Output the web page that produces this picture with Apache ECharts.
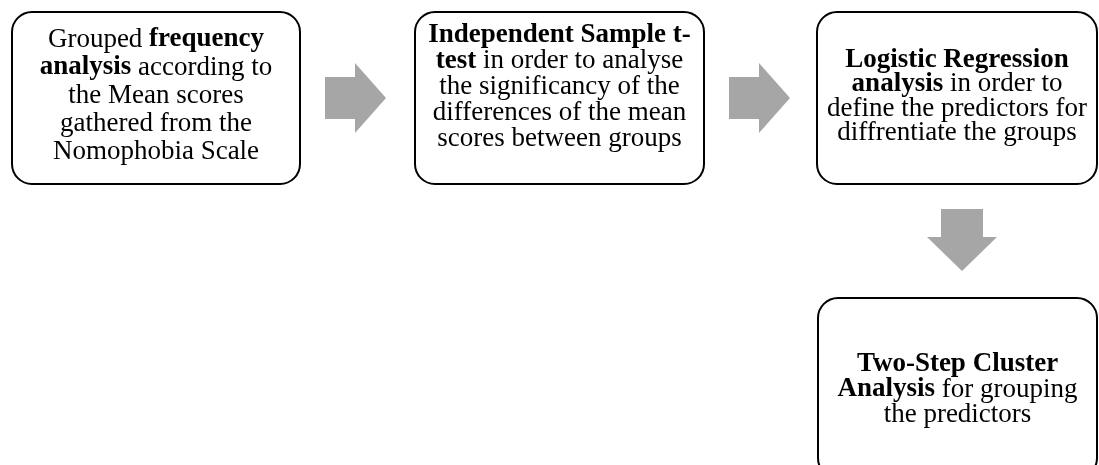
<!DOCTYPE html>
<html>
<head>
<meta charset="utf-8">
<script src="https://cdn.jsdelivr.net/npm/echarts@6/dist/echarts.min.js"></script>
<style>
  html, body { margin: 0; padding: 0; background: #fff; }
  #main { width: 1099px; height: 465px; }
</style>
</head>
<body>
<div id="main"></div>
<script>
// step texts, {b|...} = bold part
var step1 = ['Grouped {b|frequency}', '{b|analysis} according to', 'the Mean scores', 'gathered from the', 'Nomophobia Scale'];
var step2 = ['{b|Independent Sample t-}', '{b|test} in order to analyse', 'the significancy of the', 'differences of the mean', 'scores between groups'];
var step3 = ['{b|Logistic Regression}', '{b|analysis} in order to', 'define the predictors for', 'diffrentiate the groups'];
var step4 = ['{b|Two-Step Cluster}', '{b|Analysis} for grouping', 'the predictors'];
var steps = [step1, step2, step3, step4];

// flow: which step leads to which
var links = [[0, 1], [1, 2], [2, 3]];

// box layout (pixels), ty = text middle, lh = line height
var boxes = [
    { x: 12, y: 12, w: 288, h: 172, ty: 95.5, lh: 28 },
    { x: 415, y: 12, w: 289, h: 172, ty: 87, lh: 26 },
    { x: 817, y: 12, w: 280, h: 172, ty: 96.5, lh: 24.5 },
    { x: 818, y: 298, w: 279, h: 180, ty: 389.5, lh: 25.5 }
];

var myChart = echarts.init(document.getElementById('main'));

var elements = [];
var fontFamily = '"Liberation Serif", "Times New Roman", serif';

boxes.forEach(function (b, i) {
    elements.push({
        type: 'rect',
        shape: { x: b.x, y: b.y, width: b.w, height: b.h, r: 20 },
        style: { fill: '#fff', stroke: '#000', lineWidth: 2 }
    });
    elements.push({
        type: 'text',
        x: b.x + b.w / 2,
        y: b.ty,
        style: {
            text: steps[i].join('\n'),
            fontFamily: fontFamily,
            fontSize: 27,
            lineHeight: b.lh,
            fill: '#000',
            align: 'center',
            verticalAlign: 'middle',
            rich: {
                b: { fontFamily: fontFamily, fontSize: 27, lineHeight: b.lh, fontWeight: 'bold', fill: '#000' }
            }
        }
    });
});

// block arrows between boxes
var shaftW = 42, headW = 70, headL = 31, arrowL = 61;
links.forEach(function (l) {
    var a = boxes[l[0]], b = boxes[l[1]];
    var pts;
    if (b.x > a.x + a.w) {
        // right
        var x0 = a.x + a.w + 25, x1 = x0 + arrowL, cy = a.y + a.h / 2;
        pts = [
            [x0, cy - shaftW / 2], [x1 - headL, cy - shaftW / 2], [x1 - headL, cy - headW / 2],
            [x1, cy], [x1 - headL, cy + headW / 2], [x1 - headL, cy + shaftW / 2], [x0, cy + shaftW / 2]
        ];
    } else {
        // down
        var y0 = a.y + a.h + 25, y1 = y0 + arrowL + 1, cx = a.x + a.w / 2 + 5;
        pts = [
            [cx - shaftW / 2, y0], [cx + shaftW / 2, y0], [cx + shaftW / 2, y1 - headL - 3],
            [cx + headW / 2, y1 - headL - 3], [cx, y1], [cx - headW / 2, y1 - headL - 3], [cx - shaftW / 2, y1 - headL - 3]
        ];
    }
    elements.push({
        type: 'polygon',
        shape: { points: pts },
        style: { fill: '#a6a6a6' }
    });
});

var option = {
    backgroundColor: '#fff',
    animation: false,
    graphic: { elements: elements }
};
myChart.setOption(option);
</script>
</body>
</html>
